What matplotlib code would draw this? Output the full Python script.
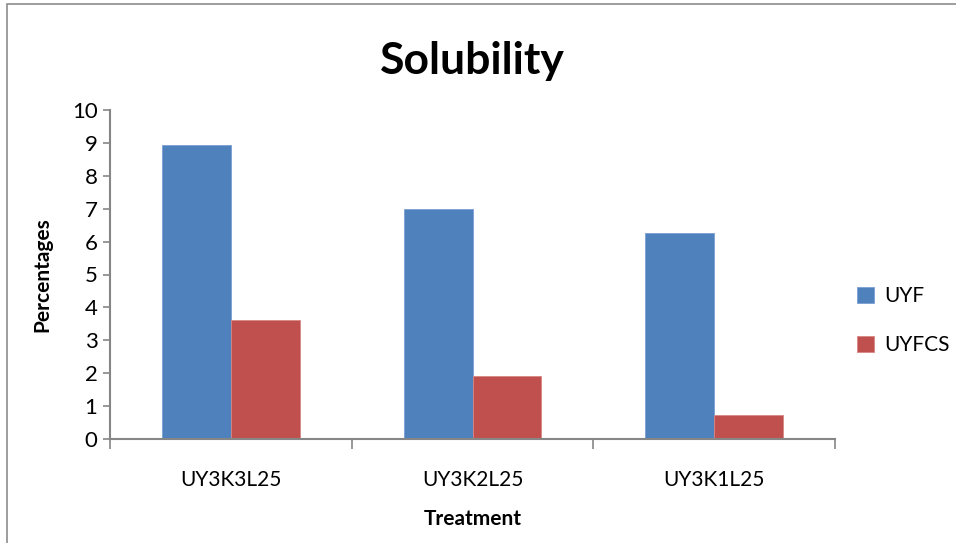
import matplotlib.pyplot as plt
from matplotlib.patches import Rectangle
import numpy as np

# data
categories = ['UY3K3L25', 'UY3K2L25', 'UY3K1L25']
series_names = ['UYF', 'UYFCS']
uyf = [8.95, 7.0, 6.25]
uyfcs = [3.62, 1.9, 0.72]
colors = ['#4F81BD', '#C0504D']

plt.rcParams['font.family'] = ['Lato', 'DejaVu Sans']

fig = plt.figure(figsize=(9.56, 5.43), dpi=100)
ax = fig.add_axes([110/956, 1 - 439/543, 725/956, 329/543])

# outer chart frame (right/bottom cut off in the original)
fig.patches.append(Rectangle((7/956, -0.1), 1.2, 1 - 4/543 + 0.1, transform=fig.transFigure,
                             fill=False, edgecolor='#8C8C8C', linewidth=1.2))

x = np.arange(len(categories))
w = 0.285
ax.bar(x - w/2, uyf, width=w, color=colors[0], edgecolor='#7A9FD3', linewidth=0.6, label=series_names[0])
ax.bar(x + w/2, uyfcs, width=w, color=colors[1], edgecolor='#D98683', linewidth=0.6, label=series_names[1])

ax.set_xlim(-0.5, len(categories) - 0.5)
ax.set_ylim(0, 10)
ax.set_yticks(range(0, 11))
ax.set_xticks(x)
ax.set_xticklabels(categories)
ax.set_xticks(np.arange(-0.5, len(categories)), minor=True)
ax.tick_params(axis='x', which='major', length=0, pad=22, labelsize=15)
ax.tick_params(axis='x', which='minor', length=7, color='#868686', width=1.2)
ax.tick_params(axis='y', length=5, color='#868686', width=1.2, labelsize=16, pad=4)

for s in ['top', 'right']:
    ax.spines[s].set_visible(False)
for s in ['left', 'bottom']:
    ax.spines[s].set_color('#868686')
    ax.spines[s].set_linewidth(1.5)

ax.set_title('Solubility', fontsize=32, fontweight='bold', pad=26)
ax.set_xlabel('Treatment', fontsize=15, fontweight='bold', labelpad=14)
ax.set_ylabel('Percentages', fontsize=15, fontweight='bold', labelpad=14)

ax.legend(loc='center left', bbox_to_anchor=(1.005, 0.36), frameon=False, fontsize=15,
          handlelength=0.8, handleheight=0.8, labelspacing=1.4, handletextpad=0.5)

fig.savefig('out.png', dpi=100)
